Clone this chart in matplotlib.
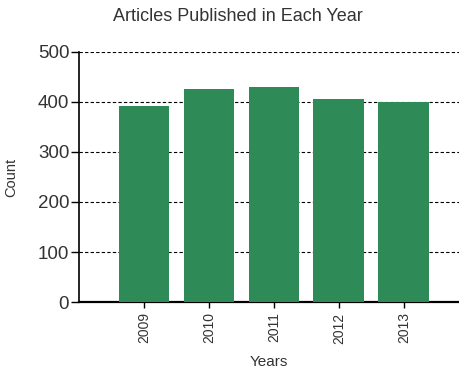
import matplotlib.pyplot as plt

years = ['2009', '2010', '2011', '2012', '2013']
counts = [392, 426, 429, 405, 399]
yticks = [0, 100, 200, 300, 400, 500]

plt.rcParams['font.family'] = ['Liberation Sans', 'DejaVu Sans']

fig = plt.figure(figsize=(4.59, 3.74), dpi=100)
ax = fig.add_axes([0.172, 0.1925, 0.828, 0.6685])

x = [int(y) for y in years]
ax.bar(x, counts, width=0.78, color='#2e8b57', zorder=3)

ax.set_xlim(2008, 2013.85)
ax.set_ylim(0, 500)
ax.set_yticks(yticks)
ax.set_xticks(x)
ax.set_xticklabels(years, rotation=90, fontsize=10, color='#333333')
ax.tick_params(axis='y', labelsize=13.5, labelcolor='#333333', length=6, width=1, pad=1)
ax.tick_params(axis='x', length=4, width=1)
ax.yaxis.grid(True, linestyle=(0, (3, 2)), color='black', linewidth=0.8, zorder=0)

ax.spines['top'].set_visible(False)
ax.spines['right'].set_visible(False)
ax.spines['left'].set_linewidth(1.2)
ax.spines['bottom'].set_linewidth(1.6)

ax.set_xlabel('Years', fontsize=11, color='#333333', labelpad=8)
ax.set_ylabel('Count', fontsize=10.5, color='#333333', labelpad=14)
fig.text(0.519, 0.955, 'Articles Published in Each Year', ha='center', va='center',
         fontsize=13, color='#333333')

fig.savefig('out.png', dpi=100)
